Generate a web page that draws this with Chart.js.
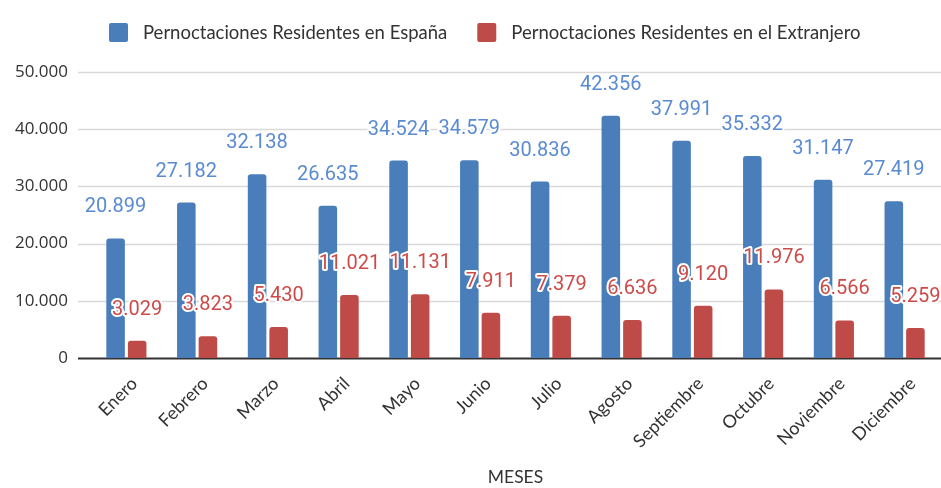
<!DOCTYPE html>
<html>
<head>
<meta charset="utf-8">
<script src="https://cdn.jsdelivr.net/npm/chart.js@4/dist/chart.umd.min.js"></script>
<style>
  html, body { margin: 0; padding: 0; background: #fff; }
  #wrap { width: 941px; height: 488px; position: relative; }
</style>
</head>
<body>
<div id="wrap"><canvas id="c" width="941" height="488"></canvas></div>
<script>
const categories = ["Enero", "Febrero", "Marzo", "Abril", "Mayo", "Junio", "Julio", "Agosto", "Septiembre", "Octubre", "Noviembre", "Diciembre"];
const residentesEspana = [20899, 27182, 32138, 26635, 34524, 34579, 30836, 42356, 37991, 35332, 31147, 27419];
const residentesExtranjero = [3029, 3823, 5430, 11021, 11131, 7911, 7379, 6636, 9120, 11976, 6566, 5259];
const seriesNames = ["Pernoctaciones Residentes en España", "Pernoctaciones Residentes en el Extranjero"];
const yTicks = [0, 10000, 20000, 30000, 40000, 50000];
const axisTitle = "MESES";

function fmt(v) {
  return String(v).replace(/\B(?=(\d{3})+(?!\d))/g, ".");
}

const barColors = ["#4a7ebb", "#be4b48"];
const labelColors = ["#5a8bd2", "#cc4b49"];

const gridPlugin = {
  id: "customGrid",
  beforeDatasetsDraw(chart) {
    const ctx = chart.ctx;
    const y = chart.scales.y;
    const left = 78;
    const right = chart.width;
    ctx.save();
    yTicks.forEach(v => {
      const py = Math.round(y.getPixelForValue(v)) + 0.5;
      ctx.beginPath();
      ctx.lineWidth = v === 0 ? 1.8 : 1.5;
      ctx.strokeStyle = v === 0 ? "#333333" : "#d9d9d9";
      ctx.moveTo(left, py);
      ctx.lineTo(right, py);
      ctx.stroke();
    });
    ctx.restore();
  }
};

const legendPlugin = {
  id: "customLegend",
  afterDraw(chart) {
    const ctx = chart.ctx;
    ctx.save();
    ctx.font = "18.5px Lato";
    ctx.textBaseline = "middle";
    ctx.textAlign = "left";
    let x = 109;
    const boxTop = 23;
    const box = 19;
    chart.data.datasets.forEach((ds, i) => {
      ctx.fillStyle = ds.backgroundColor;
      ctx.beginPath();
      ctx.roundRect(x, boxTop, box, box, 2);
      ctx.fill();
      x += box + 15;
      ctx.fillStyle = "#333333";
      ctx.fillText(ds.label, x, boxTop + box / 2 + 1);
      x += ctx.measureText(ds.label).width + 30;
    });
    ctx.restore();
  }
};

const labelPlugin = {
  id: "valueLabels",
  afterDatasetsDraw(chart) {
    const ctx = chart.ctx;
    ctx.save();
    ctx.font = "20px Roboto";
    ctx.textAlign = "center";
    ctx.textBaseline = "middle";
    ctx.lineJoin = "round";
    chart.data.datasets.forEach((ds, di) => {
      const meta = chart.getDatasetMeta(di);
      meta.data.forEach((el, i) => {
        const txt = fmt(ds.data[i]);
        const x = el.x;
        const yy = el.y - 31;
        ctx.lineWidth = 4;
        ctx.strokeStyle = "#ffffff";
        ctx.strokeText(txt, x, yy);
        ctx.fillStyle = labelColors[di];
        ctx.fillText(txt, x, yy);
      });
    });
    ctx.restore();
  }
};

function ds(label, data, color) {
  return {
    label: label,
    data: data,
    backgroundColor: color,
    borderWidth: 0,
    borderRadius: { topLeft: 3, topRight: 3, bottomLeft: 0, bottomRight: 0 },
    borderSkipped: false,
    categoryPercentage: 0.61,
    barPercentage: 0.86
  };
}

new Chart(document.getElementById("c"), {
  type: "bar",
  data: {
    labels: categories,
    datasets: [
      ds(seriesNames[0], residentesEspana, barColors[0]),
      ds(seriesNames[1], residentesExtranjero, barColors[1])
    ]
  },
  options: {
    responsive: false,
    animation: false,
    layout: { padding: { left: 0, right: 1, top: 72, bottom: 0 } },
    plugins: {
      legend: { display: false },
      tooltip: { enabled: false }
    },
    scales: {
      x: {
        grid: { display: false, drawTicks: false },
        border: { display: false },
        ticks: {
          minRotation: 45,
          maxRotation: 45,
          padding: 15,
          labelOffset: 8,
          color: "#333333",
          font: { family: "Lato", size: 18 }
        },
        title: {
          display: true,
          text: axisTitle,
          color: "#333333",
          font: { family: "Lato", size: 17.5 },
          padding: { top: 0, bottom: 0 }
        },
        afterFit(scale) { scale.height = 130; }
      },
      y: {
        min: 0,
        max: 50000,
        grid: { display: false, drawTicks: false },
        border: { display: false },
        ticks: {
          stepSize: 10000,
          padding: 23,
          color: "#333333",
          font: { family: "Open Sans", size: 17 },
          callback: (v) => fmt(v)
        },
        afterFit(scale) { scale.width = 91; }
      }
    }
  },
  plugins: [gridPlugin, labelPlugin, legendPlugin]
});
</script>
</body>
</html>
